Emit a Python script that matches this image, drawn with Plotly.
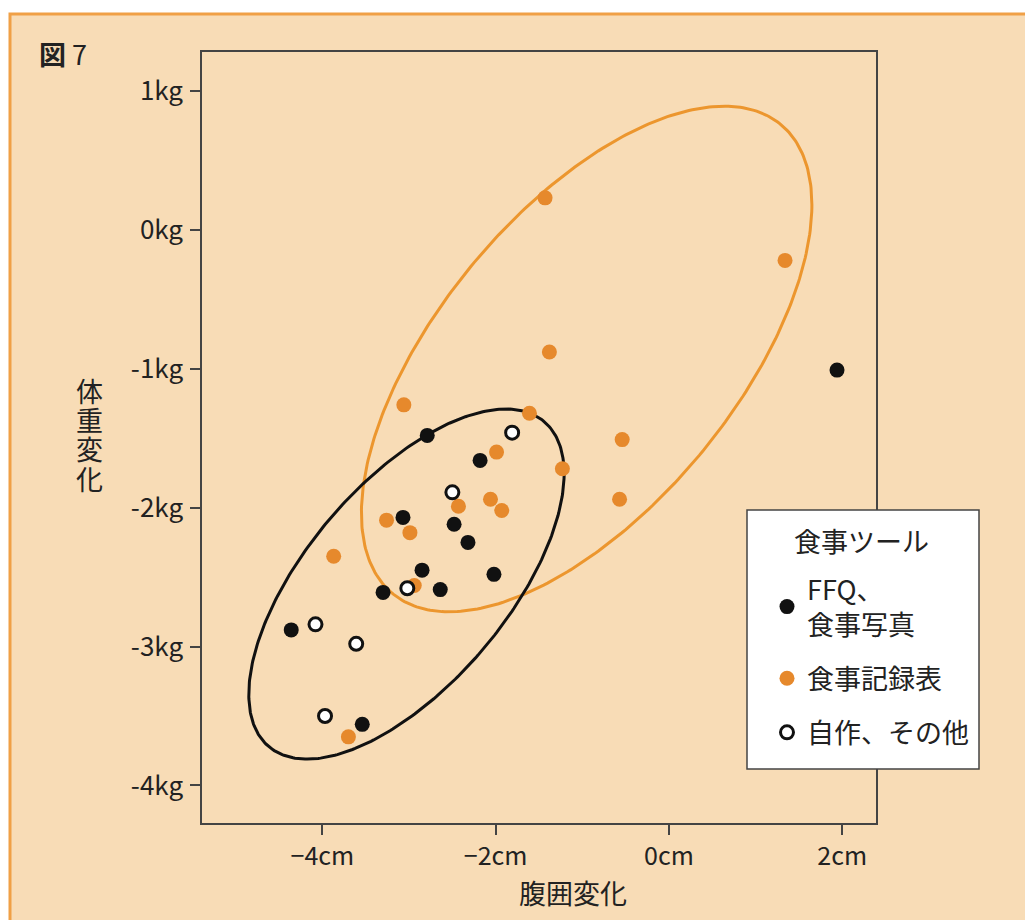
import numpy as np
import plotly.graph_objects as go

# Waist change (cm) and weight change (kg) by dietary-record tool
ffq_x = [1.94, -2.79, -2.18, -3.07, -2.48, -2.32, -2.85, -2.02, -2.64, -3.30, -4.36, -3.54]
ffq_y = [-1.01, -1.48, -1.66, -2.07, -2.12, -2.25, -2.45, -2.48, -2.59, -2.61, -2.88, -3.56]

rec_x = [-1.43, 1.34, -1.38, -3.06, -1.61, -0.54, -1.99, -1.23, -2.06, -0.57, -2.43, -1.93,
         -3.26, -2.99, -3.87, -2.94, -3.70]
rec_y = [0.23, -0.22, -0.88, -1.26, -1.32, -1.51, -1.60, -1.72, -1.94, -1.94, -1.99, -2.02,
         -2.09, -2.18, -2.35, -2.56, -3.65]

own_x = [-1.81, -2.50, -3.02, -4.08, -3.61, -3.97]
own_y = [-1.46, -1.89, -2.58, -2.84, -2.98, -3.50]

# Ellipse parameters: centre, half-extent along x / y, correlation
rec_ellipse = dict(cx=-0.95, cy=-0.93, sx=2.60, sy=1.82, rho=0.61)
ffq_ellipse = dict(cx=-3.03, cy=-2.55, sx=1.82, sy=1.26, rho=0.63)

x_ticks = [-4, -2, 0, 2]
x_tick_text = ["−4cm", "−2cm", "0cm", "2cm"]
y_ticks = [1, 0, -1, -2, -3, -4]
y_tick_text = ["1kg", "0kg", "-1kg", "-2kg", "-3kg", "-4kg"]

FONT = "Noto Sans CJK JP"
TEXT = "#222222"
ORANGE = "#E6892C"
ORANGE_LINE = "#EC962E"
BLACK = "#111111"

# Plot-area geometry in pixels, used to place paper-referenced decorations
L, R, T, B = 202, 876, 52, 823


def px(x):
    return (x - L) / (R - L)


def py(y):
    return (B - y) / (B - T)


def ellipse_path(cx, cy, sx, sy, rho, n=361):
    t = np.linspace(0, 2 * np.pi, n)
    x = cx + sx * np.cos(t)
    y = cy + sy * (rho * np.cos(t) + np.sqrt(1 - rho ** 2) * np.sin(t))
    return x, y


fig = go.Figure()

ex, ey = ellipse_path(**rec_ellipse)
fig.add_trace(go.Scatter(x=ex, y=ey, mode="lines", line=dict(color=ORANGE_LINE, width=3),
                         showlegend=False, hoverinfo="skip"))
ex, ey = ellipse_path(**ffq_ellipse)
fig.add_trace(go.Scatter(x=ex, y=ey, mode="lines", line=dict(color=BLACK, width=3),
                         showlegend=False, hoverinfo="skip"))

fig.add_trace(go.Scatter(x=rec_x, y=rec_y, mode="markers", name="食事記録表",
                         legendgroup="rec", legendrank=2,
                         marker=dict(color=ORANGE, size=15, line=dict(width=0))))
fig.add_trace(go.Scatter(x=ffq_x, y=ffq_y, mode="markers", name="FFQ、<br>食事写真",
                         legendgroup="ffq", legendrank=1,
                         marker=dict(color=BLACK, size=15, line=dict(width=0))))
fig.add_trace(go.Scatter(x=own_x, y=own_y, mode="markers", name="自作、その他",
                         legendgroup="own", legendrank=3,
                         marker=dict(color="white", size=13, line=dict(color=BLACK, width=3))))

axis_common = dict(showgrid=False, zeroline=False, showline=True, linecolor="#444444",
                   linewidth=1.5, mirror=True, ticks="outside", ticklen=10, tickwidth=1.5,
                   tickcolor="#444444")

fig.update_xaxes(range=[-5.39, 2.39], tickvals=x_ticks, ticktext=x_tick_text,
                 tickfont=dict(family=FONT, size=25, color=TEXT), **axis_common)
fig.update_yaxes(range=[-4.27, 1.28], tickvals=y_ticks, ticktext=y_tick_text,
                 tickfont=dict(family=FONT, size=26, color=TEXT), ticklabelstandoff=2,
                 **axis_common)

# Beige panel with an orange frame behind everything
fig.add_shape(type="rect", xref="paper", yref="paper", x0=px(10), x1=px(1040), y0=py(940),
              y1=py(14), fillcolor="#F8DCB6", line=dict(color="#F0A046", width=3), layer="below")

# Legend box
fig.add_shape(type="rect", xref="paper", yref="paper", x0=px(747), x1=px(979), y0=py(769),
              y1=py(510), fillcolor="white", line=dict(color="#444444", width=1.5), layer="above")
fig.add_annotation(text="食事ツール", xref="paper", yref="paper", x=px(792), y=py(540),
                   xanchor="left", yanchor="middle", showarrow=False,
                   font=dict(family=FONT, size=27, color=TEXT))

fig.add_annotation(text="<b>図</b> 7", xref="paper", yref="paper", x=px(37), y=py(53),
                   xanchor="left", yanchor="middle", showarrow=False,
                   font=dict(family=FONT, size=27, color=TEXT))
fig.add_annotation(text="腹囲変化", xref="paper", yref="paper", x=px(573), y=py(893),
                   xanchor="center", yanchor="middle", showarrow=False,
                   font=dict(family=FONT, size=27, color=TEXT))

# Vertical axis title, one character per line
for i, ch in enumerate("体重変化"):
    fig.add_annotation(text=ch, xref="paper", yref="paper", x=px(89),
                       y=py(390 + 29.5 * i), xanchor="center", yanchor="middle",
                       showarrow=False, font=dict(family=FONT, size=27, color=TEXT))

fig.update_layout(
    width=1025, height=920,
    margin=dict(l=L, r=1025 - R, t=T, b=920 - B),
    paper_bgcolor="white", plot_bgcolor="white",
    showlegend=True,
    legend=dict(
        x=px(767), y=py(565), xanchor="left", yanchor="top",
        bgcolor="rgba(0,0,0,0)", borderwidth=0,
        font=dict(family=FONT, size=27, color=TEXT),
        tracegroupgap=16, itemwidth=30,
    ),
)

fig.write_html("out.html")
